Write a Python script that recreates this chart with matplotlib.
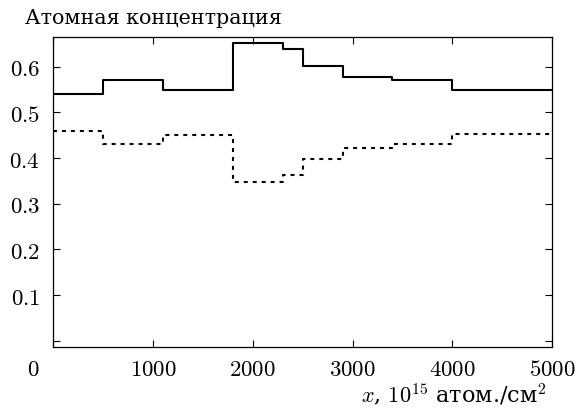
import matplotlib
matplotlib.use("Agg")
import matplotlib.pyplot as plt
import matplotlib.transforms as mtransforms

plt.rcParams['mathtext.fontset'] = 'cm'
plt.rcParams['font.family'] = ['DejaVu Serif']

# Step boundaries (x, 10^15 atoms/cm^2)
edges = [0, 500, 1100, 1800, 2300, 2500, 2900, 3400, 4000, 5000]
# Atomic concentration of the two components on each interval
conc_a = [0.540, 0.570, 0.550, 0.652, 0.638, 0.602, 0.578, 0.570, 0.548]
conc_b = [0.460, 0.430, 0.450, 0.347, 0.362, 0.398, 0.423, 0.430, 0.452]

xticks = [0, 1000, 2000, 3000, 4000, 5000]
xticklabels = ['0', '1000', '2000', '3000', '4000', '5000']
yticks = [0.0, 0.1, 0.2, 0.3, 0.4, 0.5, 0.6]
yticklabels = ['', '0.1', '0.2', '0.3', '0.4', '0.5', '0.6']

W, H = 577, 410
fig = plt.figure(figsize=(W / 100, H / 100), dpi=100)
L, R, T, B = 53.3, 552.0, 38.3, 347.5
ax = fig.add_axes([L / W, 1 - B / H, (R - L) / W, (B - T) / H])

ax.plot(edges, conc_a + [conc_a[-1]], drawstyle='steps-post', color='black', lw=1.5)
ax.plot(edges, conc_b + [conc_b[-1]], drawstyle='steps-post', color='black', lw=1.5,
        dashes=(1.9, 2.4))

ax.set_xlim(0, 5000)
ax.set_ylim(-0.0127, 0.6644)

ax.set_xticks(xticks)
ax.set_xticklabels(['$%s$' % t for t in xticklabels], fontsize=16.5)
ax.set_yticks(yticks)
ax.set_yticklabels(['$%s$' % t if t else '' for t in yticklabels], fontsize=16.5)

ax.tick_params(direction='in', length=5.2, width=0.8, top=True, right=True)
ax.tick_params(axis='x', pad=8.0)
ax.tick_params(axis='y', pad=9.5)
for s in ax.spines.values():
    s.set_linewidth(0.9)

# shift the "0" label to the lower-left corner (shared origin label)
lbl0 = ax.get_xticklabels()[0]
lbl0.set_transform(lbl0.get_transform() +
                   mtransforms.ScaledTranslation(-19.6 / 100, 0, fig.dpi_scale_trans))

title = fig.text(25 / W, 1 - 24 / H, 'Атомная концентрация', fontsize=14,
                 ha='left', va='baseline')
xlab = fig.text(547 / W, 1 - 402 / H, r'$x$, $10^{15}$ атом./см$^2$', fontsize=14,
                ha='right', va='baseline')

# fit text widths to the reference layout
fig.canvas.draw()
r = fig.canvas.get_renderer()
for t, target in ((title, 258.0), (xlab, 186.0)):
    w = t.get_window_extent(r).width
    t.set_fontsize(t.get_fontsize() * target / w)

fig.savefig('out.png', dpi=100)
